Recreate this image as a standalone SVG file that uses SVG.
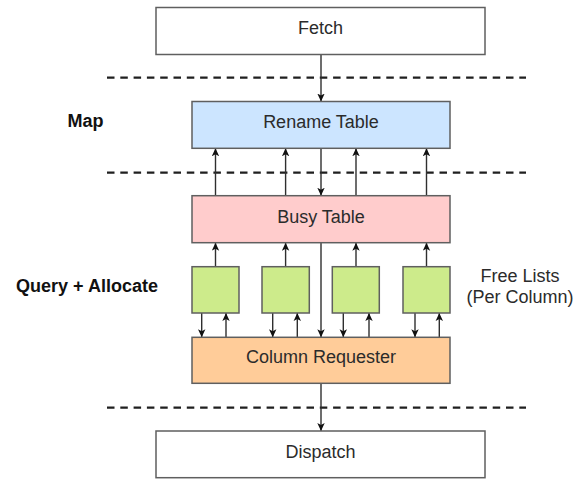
<svg xmlns="http://www.w3.org/2000/svg" width="574" height="479" viewBox="0 0 574 479">
  <style>
    .box { stroke: #5f5f5f; stroke-width: 1.5; }
    .lbl { font-family: "Liberation Sans", Arial, Helvetica, sans-serif; font-size: 18px; fill: #2b2b2b; text-anchor: middle; }
    .stage { font-family: "Liberation Sans", Arial, Helvetica, sans-serif; font-size: 18px; font-weight: bold; fill: #111; text-anchor: middle; }
    .sep { stroke: #1f1f1f; stroke-width: 2.2; stroke-dasharray: 7.5 5.8; fill: none; }
    .wire { stroke: #2f2f2f; stroke-width: 1.4; fill: none; marker-end: url(#head); }
  </style>
  <defs>
    <marker id="head" markerUnits="userSpaceOnUse" markerWidth="10" markerHeight="10" refX="8" refY="4" orient="auto">
      <path d="M0,0.3 L8,4 L0,7.7 L2,4 Z" fill="#111"/>
    </marker>
  </defs>

  <rect width="574" height="479" fill="#fff"/>

  <!-- pipeline stage separators -->
  <g id="separators">
    <line class="sep" x1="107" y1="77.7" x2="526" y2="77.7"/>
    <line class="sep" x1="107" y1="172.7" x2="526" y2="172.7"/>
    <line class="sep" x1="107" y1="407.7" x2="526" y2="407.7"/>
  </g>

  <!-- stage labels -->
  <g id="stage-labels">
    <text class="stage" x="85.5" y="127.3">Map</text>
    <text class="stage" x="87" y="292.3">Query + Allocate</text>
    <text class="lbl" x="520" y="281.7">Free Lists</text>
    <text class="lbl" x="520" y="303.3">(Per Column)</text>
  </g>

  <g id="connectors">
    <!-- main path -->
    <line class="wire" x1="321" y1="54.3" x2="321" y2="101.5"/>
    <line class="wire" x1="321" y1="148.3" x2="321" y2="195.7"/>
    <line class="wire" x1="321" y1="242.7" x2="321" y2="337.3"/>
    <line class="wire" x1="321" y1="383.3" x2="321" y2="431"/>
    <!-- busy table to rename table -->
    <line class="wire" x1="215.5" y1="195.7" x2="215.5" y2="148.3"/>
    <line class="wire" x1="285.6" y1="195.7" x2="285.6" y2="148.3"/>
    <line class="wire" x1="356" y1="195.7" x2="356" y2="148.3"/>
    <line class="wire" x1="426.5" y1="195.7" x2="426.5" y2="148.3"/>
    <!-- free lists to busy table -->
    <line class="wire" x1="215.5" y1="266.7" x2="215.5" y2="242.7"/>
    <line class="wire" x1="285.6" y1="266.7" x2="285.6" y2="242.7"/>
    <line class="wire" x1="356" y1="266.7" x2="356" y2="242.7"/>
    <line class="wire" x1="426.5" y1="266.7" x2="426.5" y2="242.7"/>
    <!-- free lists to column requester -->
    <line class="wire" x1="201.7" y1="313" x2="201.7" y2="337.3"/>
    <line class="wire" x1="272.7" y1="313" x2="272.7" y2="337.3"/>
    <line class="wire" x1="343.3" y1="313" x2="343.3" y2="337.3"/>
    <line class="wire" x1="415" y1="313" x2="415" y2="337.3"/>
    <!-- column requester to free lists -->
    <line class="wire" x1="226" y1="337.3" x2="226" y2="313"/>
    <line class="wire" x1="297.3" y1="337.3" x2="297.3" y2="313"/>
    <line class="wire" x1="369" y1="337.3" x2="369" y2="313"/>
    <line class="wire" x1="439.3" y1="337.3" x2="439.3" y2="313"/>
  </g>

  <g id="fetch">
    <rect class="box" x="156" y="7.5" width="329" height="47" fill="#fff"/>
    <text class="lbl" x="320.5" y="34.3">Fetch</text>
  </g>

  <g id="rename-table">
    <rect class="box" x="192" y="101.5" width="258" height="46.8" fill="#cce5ff"/>
    <text class="lbl" x="321" y="128.3">Rename Table</text>
  </g>

  <g id="busy-table">
    <rect class="box" x="192" y="195.7" width="258" height="47" fill="#ffcccc"/>
    <text class="lbl" x="321" y="222.7">Busy Table</text>
  </g>

  <g id="free-list-0">
    <rect class="box" x="192" y="266.7" width="47" height="46.3" fill="#cdeb8b"/>
  </g>
  <g id="free-list-1">
    <rect class="box" x="262" y="266.7" width="47.3" height="46.3" fill="#cdeb8b"/>
  </g>
  <g id="free-list-2">
    <rect class="box" x="332.3" y="266.7" width="47" height="46.3" fill="#cdeb8b"/>
  </g>
  <g id="free-list-3">
    <rect class="box" x="403" y="266.7" width="47" height="46.3" fill="#cdeb8b"/>
  </g>

  <g id="column-requester">
    <rect class="box" x="192" y="337.3" width="258" height="46" fill="#ffcc99"/>
    <text class="lbl" x="321" y="363.3">Column Requester</text>
  </g>

  <g id="dispatch">
    <rect class="box" x="156" y="431" width="329" height="46.7" fill="#fff"/>
    <text class="lbl" x="320.5" y="458">Dispatch</text>
  </g>
</svg>
